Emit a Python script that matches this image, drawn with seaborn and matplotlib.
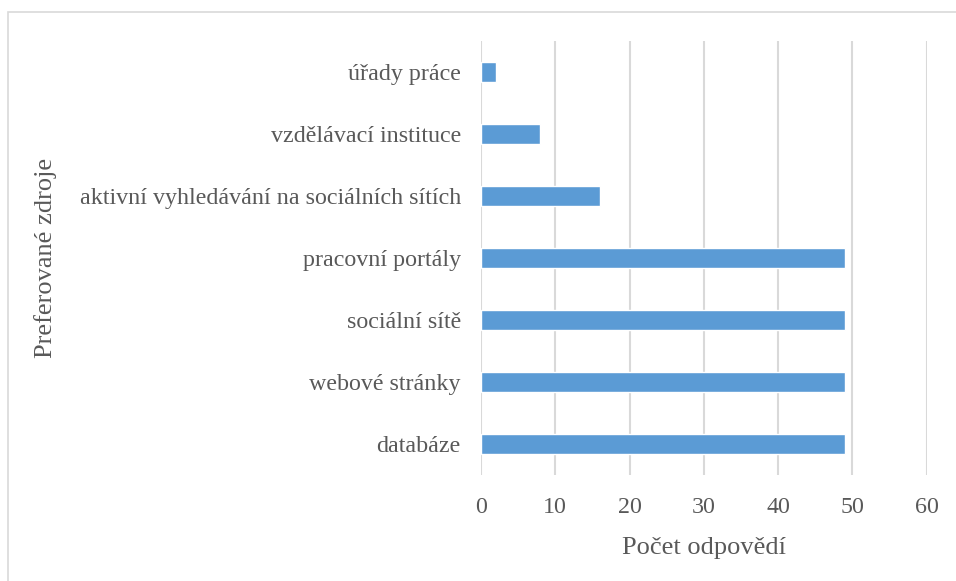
import matplotlib
matplotlib.use("Agg")
import matplotlib.pyplot as plt
import seaborn as sns
import pandas as pd
from matplotlib.patches import Rectangle

categories = [
    "úřady práce",
    "vzdělávací instituce",
    "aktivní vyhledávání na sociálních sítích",
    "pracovní portály",
    "sociální sítě",
    "webové stránky",
    "databáze",
]
counts = [2, 8, 16, 49, 49, 49, 49]
x_ticks = [0, 10, 20, 30, 40, 50, 60]

df = pd.DataFrame({"zdroj": categories, "pocet": counts})

sns.set_style("white")
plt.rcParams["font.family"] = ["Liberation Serif", "DejaVu Serif"]

text_color = "#595959"
grid_color = "#d9d9d9"
bar_color = "#5b9bd5"

fig = plt.figure(figsize=(9.56, 5.81), dpi=100)
ax = fig.add_axes([0.5031, 0.1824, 0.9694 - 0.5031, 0.9294 - 0.1824])

sns.barplot(data=df, x="pocet", y="zdroj", order=categories, orient="h",
            color=bar_color, saturation=1, width=0.32, ax=ax, zorder=3)

ax.set_xlim(0, 60)
ax.set_ylim(len(categories) - 0.5, -0.5)
ax.set_xticks(x_ticks)
ax.set_xticklabels([str(t) for t in x_ticks])
ax.grid(axis="x", color=grid_color, linewidth=1.5, zorder=0)
ax.grid(axis="y", visible=False)
for s in ax.spines.values():
    s.set_visible(False)

ax.tick_params(axis="both", length=0, labelsize=17.3, labelcolor=text_color)
ax.tick_params(axis="y", pad=14.5)
ax.tick_params(axis="x", pad=15.5)

ax.set_xlabel("Počet odpovědí", fontsize=19, color=text_color, labelpad=14)
ax.set_ylabel("")
fig.text(46 / 956, 1 - 258 / 581, "Preferované zdroje", rotation=90,
         fontsize=19, color=text_color, ha="center", va="center")

# outer chart frame
fig.patches.append(Rectangle((8 / 956, -0.1), 1.2, 1.1 - 12 / 581,
                             transform=fig.transFigure, fill=False,
                             edgecolor=grid_color, linewidth=1.2))

fig.savefig("out.png", dpi=100, facecolor="white")
